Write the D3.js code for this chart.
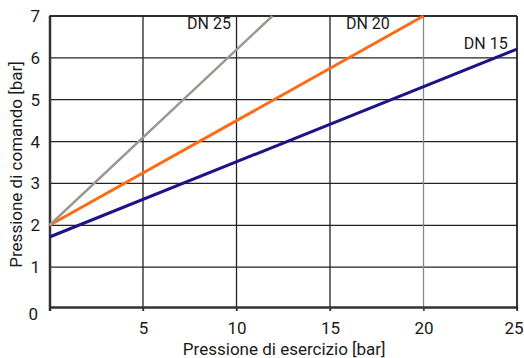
<!DOCTYPE html>
<html>
<head>
<meta charset="utf-8">
<script src="https://cdn.jsdelivr.net/npm/d3@7"></script>
<style>
  html, body { margin: 0; padding: 0; background: #fff; }
  text { font-family: Roboto, "Noto Sans", sans-serif; fill: #1a1a1a; }
</style>
</head>
<body>
<div id="stage"></div>
<script>
(function(d3) {
    'use strict';

    // data
    var seriesNames = ['DN 15', 'DN 20', 'DN 25'];
    var dn15 = [[0, 1.72], [25, 6.21]];
    var dn20 = [[0, 2.0], [20, 7]];
    var dn25 = [[0, 2.0], [11.92, 7]];
    var xTicks = [5, 10, 15, 20, 25];
    var yTicks = [0, 1, 2, 3, 4, 5, 6, 7];
    var labelPos = [[24.5, 6.2], [18.2, 6.7], [9.7, 6.7]];

    var colors = ['#1c1487', '#ff6a17', '#9c9890'];
    var widths = [3, 3, 2.5];

    var width = 524, height = 358;
    var x = d3.scaleLinear().domain([0, 25]).range([49.5, 517]);
    var y = d3.scaleLinear().domain([0, 7]).range([309, 16]);

    var svg = d3.select('#stage')
        .append('svg')
        .attr('width', width)
        .attr('height', height);

    // grid
    svg.append('g')
        .selectAll('line')
        .data(yTicks.slice(1))
        .enter()
        .append('line')
        .attr('x1', x(0))
        .attr('x2', x(25))
        .attr('y1', function(d) { return y(d); })
        .attr('y2', function(d) { return y(d); })
        .style('stroke', '#222')
        .style('stroke-width', 1.3);

    svg.append('g')
        .selectAll('line')
        .data(xTicks)
        .enter()
        .append('line')
        .attr('x1', function(d) { return x(d); })
        .attr('x2', function(d) { return x(d); })
        .attr('y1', y(7))
        .attr('y2', y(0) + 2)
        .style('stroke', function(d) { return d === 20 ? '#888' : '#222'; })
        .style('stroke-width', 1.3);

    // axes
    var xAxis = svg.append('g')
        .attr('transform', 'translate(0,' + (y(0) - 2) + ')')
        .call(d3.axisBottom(x).tickValues(xTicks).tickFormat(d3.format('d'))
            .tickSize(4).tickSizeOuter(0).tickPadding(11));
    xAxis.select('.domain').style('stroke', '#333').style('stroke-width', 2.5);
    xAxis.selectAll('.tick line').style('stroke', '#333').style('stroke-width', 1.3);
    xAxis.selectAll('text').style('font-size', '17px').style('fill', '#1a1a1a');
    xAxis.selectAll('.tick')
        .filter(function(d) { return d === 25; })
        .select('text')
        .attr('text-anchor', 'end')
        .attr('x', 6);

    var yAxis = svg.append('g')
        .attr('transform', 'translate(' + (x(0) + 0.5) + ',0)')
        .call(d3.axisLeft(y).tickValues(yTicks).tickFormat(d3.format('d'))
            .tickSize(0).tickPadding(10));
    yAxis.select('.domain').remove();
    yAxis.selectAll('text').style('font-size', '17px').style('fill', '#1a1a1a');
    yAxis.selectAll('.tick')
        .filter(function(d) { return d === 0; })
        .select('text')
        .attr('dy', '0.6em')
        .attr('x', -12);

    svg.append('line')
        .attr('x1', x(0) + 0.5).attr('x2', x(0) + 0.5)
        .attr('y1', y(7)).attr('y2', y(0) + 2)
        .style('stroke', '#333').style('stroke-width', 2.5);

    // frame
    svg.append('line')
        .attr('x1', x(0)).attr('x2', x(25))
        .attr('y1', y(7)).attr('y2', y(7))
        .style('stroke', '#222').style('stroke-width', 1.5);
    svg.append('line')
        .attr('x1', x(25)).attr('x2', x(25))
        .attr('y1', y(7)).attr('y2', y(0))
        .style('stroke', '#222').style('stroke-width', 1.5);

    // series
    var line = d3.line()
        .x(function(d) { return x(d[0]); })
        .y(function(d) { return y(d[1]); });

    svg.append('g')
        .selectAll('path')
        .data([dn15, dn20, dn25])
        .enter()
        .append('path')
        .attr('d', line)
        .style('fill', 'none')
        .style('stroke', function(d, i) { return colors[i]; })
        .style('stroke-width', function(d, i) { return widths[i]; });

    // series labels
    svg.append('g')
        .selectAll('text')
        .data(seriesNames)
        .enter()
        .append('text')
        .attr('x', function(d, i) { return x(labelPos[i][0]); })
        .attr('y', function(d, i) { return y(labelPos[i][1]); })
        .attr('text-anchor', 'end')
        .style('font-size', '16px')
        .text(function(d) { return d; });

    // axis titles
    svg.append('text')
        .attr('x', x(12.5) + 1)
        .attr('y', 355)
        .attr('text-anchor', 'middle')
        .style('font-size', '17px')
        .text('Pressione di esercizio [bar]');

    svg.append('text')
        .attr('transform', 'translate(22,' + (y(3.5) + 2) + ') rotate(-90)')
        .attr('text-anchor', 'middle')
        .style('font-size', '17px')
        .text('Pressione di comando [bar]');

})(window.d3);
</script>
</body>
</html>
